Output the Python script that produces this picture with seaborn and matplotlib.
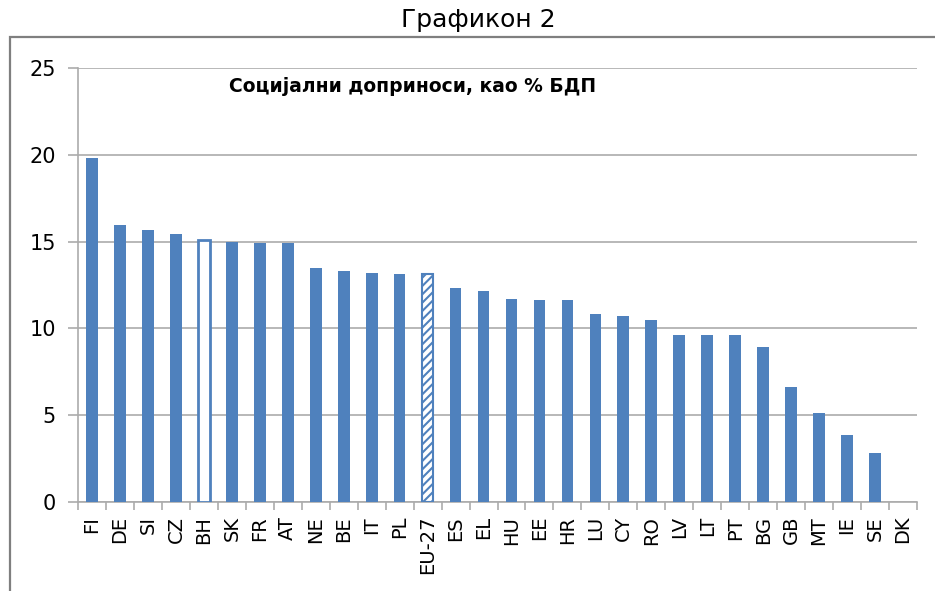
import matplotlib
matplotlib.use("Agg")
import matplotlib.pyplot as plt
from matplotlib.patches import Rectangle
from matplotlib.ticker import FixedLocator
import seaborn as sns
import pandas as pd
import numpy as np

countries = ["FI", "DE", "SI", "CZ", "BH", "SK", "FR", "AT", "NE", "BE", "IT", "PL",
             "EU-27", "ES", "EL", "HU", "EE", "HR", "LU", "CY", "RO", "LV", "LT", "PT",
             "BG", "GB", "MT", "IE", "SE", "DK"]
values = [19.8, 15.95, 15.65, 15.45, 15.1, 15.0, 14.9, 14.9, 13.5, 13.3, 13.2, 13.15,
          13.15, 12.3, 12.15, 11.7, 11.65, 11.65, 10.85, 10.7, 10.5, 9.6, 9.6, 9.6,
          8.95, 6.6, 5.15, 3.85, 2.8, 0.0]
yticks = [0, 5, 10, 15, 20, 25]
fig_title = "Графикон 2"
chart_title = "Социјални доприноси, као % БДП"

sns.set_style("white")
plt.rcParams["font.family"] = ["DejaVu Sans"]
plt.rcParams["text.color"] = "black"
plt.rcParams["xtick.color"] = "black"
plt.rcParams["ytick.color"] = "black"
plt.rcParams["hatch.color"] = "#4F81BD"
plt.rcParams["hatch.linewidth"] = 1.5

blue = "#4F81BD"
grid_c = "#ABABAB"

df = pd.DataFrame({"country": countries, "value": values})

fig = plt.figure(figsize=(9.35, 5.91), dpi=100)
ax = fig.add_axes([78 / 935, 1 - 502 / 591, (917 - 78) / 935, (502 - 68) / 591])

sns.barplot(data=df, x="country", y="value", color=blue, width=0.42,
            saturation=1, ax=ax, zorder=3)

for i, p in enumerate(ax.patches):
    p.set_edgecolor(blue)
    p.set_linewidth(0)
    if countries[i] == "BH":
        p.set_facecolor("white")
        p.set_linewidth(2)
    elif countries[i] == "EU-27":
        p.set_facecolor("white")
        p.set_hatch("////")
        p.set_linewidth(1.5)

ax.set_xlim(-0.5, len(countries) - 0.5)
ax.set_ylim(0, 25)
ax.set_yticks(yticks)
ax.grid(axis="y", color=grid_c, lw=1.2, zorder=0)
ax.set_axisbelow(True)
ax.set_xlabel("")
ax.set_ylabel("")

ax.tick_params(axis="y", length=7, color=grid_c, width=1.2, labelsize=15, pad=9,
               direction="out", left=True, labelcolor="black")
ax.tick_params(axis="x", which="major", length=0, labelsize=14, pad=10,
               labelrotation=90, labelcolor="black")
ax.xaxis.set_minor_locator(FixedLocator(np.arange(-0.5, len(countries), 1)))
ax.tick_params(axis="x", which="minor", length=6, color=grid_c, width=1.2,
               direction="out", bottom=True)

for s in ["top", "right"]:
    ax.spines[s].set_visible(False)
for s in ["left", "bottom"]:
    ax.spines[s].set_color(grid_c)
    ax.spines[s].set_linewidth(1.2)

fig.text(413 / 935, 1 - 86 / 591, chart_title, ha="center", va="center",
         fontsize=13.5, fontweight="bold", color="black")

fig.text(478 / 935, 1 - 20 / 591, fig_title, ha="center", va="center",
         fontsize=18, color="black")

fig.patches.append(Rectangle((10 / 935, -0.2), 1.2, 1.2 - 37 / 591,
                             transform=fig.transFigure, fill=False,
                             edgecolor="#7F7F7F", lw=1.6, zorder=0))

fig.savefig("out.png", dpi=100, facecolor="white")
